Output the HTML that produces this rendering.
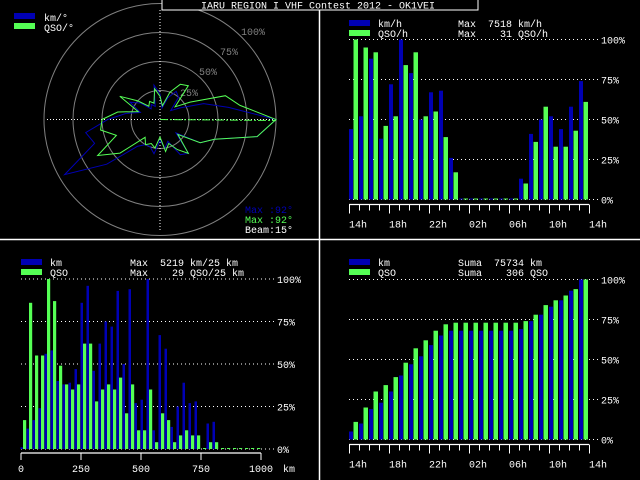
<!DOCTYPE html>
<html><head><meta charset="utf-8"><style>
html,body{margin:0;padding:0;background:#000;}
svg{display:block;}
text{font-family:"Liberation Mono","DejaVu Sans Mono",monospace;font-size:10px;fill:#fff;}
.pre{white-space:pre;}
</style></head><body>
<svg id="s" width="640" height="480" viewBox="0 0 640 480">
<rect x="0" y="0" width="640" height="480" fill="#000"/>
<line x1="319.5" y1="0" x2="319.5" y2="480" stroke="#fff" stroke-width="1.5"/>
<line x1="0" y1="239.5" x2="640" y2="239.5" stroke="#fff" stroke-width="1.5"/>
<g id="polar"></g>
<g id="hourly"></g>
<g id="dist"></g>
<g id="cum"></g>
<rect x="162" y="-1" width="316" height="11" fill="#000" stroke="#fff" stroke-width="1"/>
<text x="318" y="8.5" text-anchor="middle">IARU REGION I VHF Contest 2012 - OK1VEI</text>
</svg>
<script>
const polarBearings=[0,10,20,30,40,50,60,70,80,90,100,110,120,130,140,150,160,170,180,190,200,210,220,230,240,250,260,270,280,290,300,310,320,330,340,350];
const polarKm=[22,10,20,28,25,12,20,40,60,100,85,50,40,18,38,35,20,25,18,30,25,25,30,60,95,60,65,45,30,18,30,22,12,15,12,30];
const polarQso=[20,12,25,35,38,17,30,60,70,100,85,50,40,20,38,30,22,28,15,25,22,25,20,45,62,40,52,50,37,20,40,25,15,18,15,27];
const hourLabels=["14h","18h","22h","02h","06h","10h","14h"];
const hourKm=[44,52,88,38,72,100,79,50,67,68,26,0,0,0,0,0,0,13,41,50,52,44,58,74];
const hourQso=[100,95,92,46,52,84,92,52,55,39,17,0,0,0,0,0,0,10,36,58,33,33,43,61];
const distLabels=["0","250","500","750","1000"];
const distKm=[1,12,17,24,56,58,40,38,39,47,86,96,46,62,75,72,93,50,94,27,29,100,11,67,59,13,25,39,27,28,0,15,16,0,0,0,0,0,0,0];
const distQso=[17,86,55,55,100,87,49,38,35,38,62,62,28,35,38,35,42,21,38,11,11,35,4,21,17,4,8,11,8,8,0.5,4,4,0,0,0,0,0,0,0];
const cumKm=[5,10,19,23,30,40,47,52,59,65,68,68,68,68,68,68,68,69,74,78,83,87,93,100];
const cumQso=[11,20,30,34,39,48,57,62,68,72,73,73,73,73,73,73,73,74,78,84,87,90,94,100];
const pctLabels=["0%","25%","50%","75%","100%"];

const NS="http://www.w3.org/2000/svg";
const BLUE="#0000b4",GREEN="#55ff55",GRAY="#808080";
function mk(parent,tag,attrs,txt){const e=document.createElementNS(NS,tag);for(const k in attrs)e.setAttribute(k,attrs[k]);if(txt!==undefined)e.textContent=txt;parent.appendChild(e);return e;}

(function(){
 const g=document.getElementById('polar');const cx=160,cy=119.5,R=116;
 [0.25,0.5,0.75,1].forEach((f,i)=>{const c=mk(g,'circle',{cx:cx,cy:cy,r:R*f,fill:'none',stroke:GRAY,'stroke-width':1});
 
 });
 const ringLbl=[["25%",180,96],["50%",199,75],["75%",220,55],["100%",241,35]];
 ringLbl.forEach(l=>{const t=mk(g,'text',{x:l[1],y:l[2],style:'fill:'+GRAY},l[0]);
 
 });
 const h=mk(g,'line',{x1:47,y1:cy,x2:275,y2:cy,stroke:'#fff','stroke-dasharray':'1 2'});
 
 
 const v=mk(g,'line',{x1:cx,y1:10,x2:cx,y2:232,stroke:'#fff','stroke-dasharray':'1 2'});
 
 
 function pth(vals,col,name){let d='';vals.forEach((val,i)=>{const a=polarBearings[i]*Math.PI/180;const r=val/100*R;
  d+=(i?'L':'M')+(cx+r*Math.sin(a)).toFixed(1)+','+(cy-r*Math.cos(a)).toFixed(1);});d+='Z';
  const p=mk(g,'path',{d:d,fill:'none',stroke:col,'stroke-width':1});
  
  }
 pth(polarKm,BLUE,'km-polar-line');pth(polarQso,GREEN,'qso-polar-line');
 const bl=mk(g,'line',{x1:cx,y1:cy,x2:cx+R,y2:cy+1,stroke:GREEN,'stroke-dasharray':'8 2 2 2'});
 
 
 const r1=mk(g,'rect',{x:14,y:13,width:21,height:6,fill:BLUE});
 const r2=mk(g,'rect',{x:14,y:23,width:21,height:6,fill:GREEN});
 const t1=mk(g,'text',{x:44,y:21},'km/°');
 const t2=mk(g,'text',{x:44,y:31},'QSO/°');
 const m1=mk(g,'text',{x:245,y:213,style:'fill:'+BLUE},'Max :92°');
 const m2=mk(g,'text',{x:245,y:223,style:'fill:'+GREEN},'Max :92°');
 const m3=mk(g,'text',{x:245,y:233},'Beam:15°');
})();

function frame(g,x0,x1,y0,H,lblX){
 pctLabels.forEach((l,i)=>{const y=y0-H*i/4;
  const gl=mk(g,'line',{x1:x0,y1:y,x2:lblX-3,y2:y,stroke:'#fff','stroke-dasharray':'1 3'});
  
  
  const t=mk(g,'text',{x:lblX,y:y+4},l);
  
  });
}
function legend(g,x,y,a,b,c,d){
 const r1=mk(g,'rect',{x:x,y:y,width:21,height:6,fill:BLUE});
 const r2=mk(g,'rect',{x:x,y:y+10,width:21,height:6,fill:GREEN});
 const t1=mk(g,'text',{x:x+29,y:y+7},a);
 const t2=mk(g,'text',{x:x+29,y:y+17},b);
 const t3=mk(g,'text',{x:x+109,y:y+7,'class':'pre'},c);
 const t4=mk(g,'text',{x:x+109,y:y+17,'class':'pre'},d);
}
function hourChart(g,y0,H,kmVals,qsoVals){
 const x0=349,sw=10;
 frame(g,x0,589,y0,H,601);
 kmVals.forEach((v,i)=>{const h=Math.max(1,v/100*H);
  const r=mk(g,'rect',{x:x0+i*sw,y:y0-h,width:4,height:h,fill:BLUE});
  
  });
 qsoVals.forEach((v,i)=>{const h=Math.max(1,v/100*H);
  const r=mk(g,'rect',{x:x0+i*sw+4.5,y:y0-h,width:4.5,height:h,fill:GREEN});
  
  });
 const ay=y0+5;
 const ax=mk(g,'line',{x1:x0,y1:ay,x2:x0+240,y2:ay,stroke:'#fff','stroke-width':1.2});
 
 
 for(let i=0;i<=24;i++){const major=i%4===0;
  const tk=mk(g,'line',{x1:x0+i*sw+0.5,y1:ay,x2:x0+i*sw+0.5,y2:ay+(major?9:6),stroke:'#fff','stroke-width':1});
  
  }
 hourLabels.forEach((l,i)=>{const t=mk(g,'text',{x:x0+i*40,y:ay+23},l);
  
  });
}
(function(){const g=document.getElementById('hourly');
 legend(g,349,20,'km/h','QSO/h','Max  7518 km/h','Max    31 QSO/h');
 hourChart(g,199.5,160,hourKm,hourQso);})();
(function(){const g=document.getElementById('cum');
 legend(g,349,259,'km','QSO','Suma  75734 km','Suma    306 QSO');
 hourChart(g,439.5,160,cumKm,cumQso);})();
(function(){const g=document.getElementById('dist');
 const x0=21,y0=449,H=170,bw=6;
 legend(g,21,259,'km','QSO','Max  5219 km/25 km','Max    29 QSO/25 km');
 frame(g,x0,273,y0,H,277);
 distKm.forEach((v,i)=>{if(v<=0)return;const h=Math.max(1,v/100*H);
  const r=mk(g,'rect',{x:x0+i*bw-0.5,y:y0-h,width:2.5,height:h,fill:BLUE});
  
  });
 distQso.forEach((v,i)=>{const h=Math.max(1,v/100*H);
  const r=mk(g,'rect',{x:x0+i*bw+2,y:y0-h,width:3.2,height:h,fill:GREEN});
  
  });
 const ay=453;
 const ax=mk(g,'line',{x1:x0,y1:ay,x2:x0+240,y2:ay,stroke:'#fff','stroke-width':1.2});
 
 
 distLabels.forEach((l,i)=>{const x=x0+i*60;
  const tk=mk(g,'line',{x1:x,y1:ay,x2:x,y2:ay+7,stroke:'#fff'});
  
  
  const t=mk(g,'text',{x:x,y:ay+19,'text-anchor':'middle'},l);
  
  });
 const u=mk(g,'text',{x:283,y:ay+19},'km');
 
 
})();
</script>
</body></html>
